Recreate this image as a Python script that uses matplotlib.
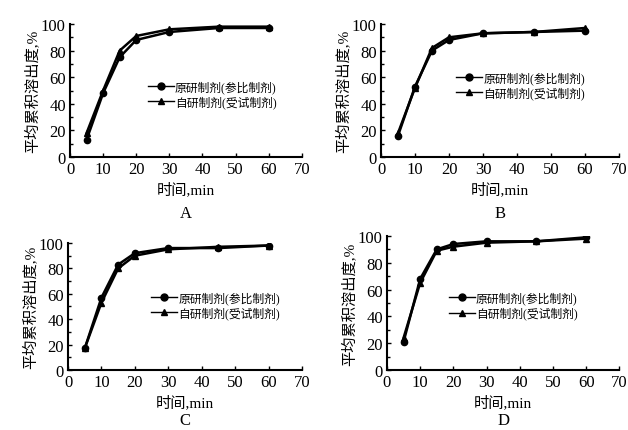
import numpy as np
import matplotlib.pyplot as plt
from matplotlib.lines import Line2D

plt.rcParams['font.family'] = ['Liberation Serif', 'Noto Sans CJK SC']

# sampling times, min
t = [5, 10, 15, 20, 30, 45, 60]

# 原研制剂 (circle) and 自研制剂 (triangle), cumulative dissolution %
a_ref = [13, 48, 75, 88, 94, 97, 97]
a_test = [18, 50, 80, 91, 96, 98, 98]
b_ref = [16, 53, 80, 88, 93, 94, 95]
b_test = [18, 52, 82, 90, 93, 94, 97]
c_ref = [17, 57, 83, 92, 96, 96, 98]
c_test = [17, 53, 80, 90, 95, 97, 98]
d_ref = [21, 68, 90, 94, 96, 96, 99]
d_test = [24, 65, 89, 92, 95, 96, 98]

panels = ['A', 'B', 'C', 'D']
ref_label = '原研制剂(参比制剂)'
test_label = '自研制剂(受试制剂)'

# axes rectangles in figure fraction
rects = [
    [0.1115, 0.6334, 0.369, 0.3086],
    [0.6067, 0.6334, 0.379, 0.3086],
    [0.1083, 0.1392, 0.3726, 0.2947],
    [0.6162, 0.1392, 0.370, 0.311],
]
# where each legend sits (axes fraction)
leg_pos = [(0.31, 0.47), (0.29, 0.54), (0.33, 0.51), (0.24, 0.48)]
series = [(a_ref, a_test), (b_ref, b_test), (c_ref, c_test), (d_ref, d_test)]

fig = plt.figure(figsize=(6.28, 4.31), dpi=100)

for i, (rect, (ref, test), name, lp) in enumerate(zip(rects, series, panels, leg_pos)):
    ax = fig.add_axes(rect)
    ax.plot(t, ref, color='black', lw=1.8, marker='o', ms=4.5)
    ax.plot(t, test, color='black', lw=1.8, marker='^', ms=4.5)
    ax.set_xlim(0, 70)
    ax.set_ylim(0, 100)
    ax.set_xticks(np.arange(0, 71, 10))
    ax.set_yticks(np.arange(0, 101, 20))
    ax.set_yticks(np.arange(10, 100, 20), minor=True)
    ax.spines['top'].set_visible(False)
    ax.spines['right'].set_visible(False)
    ax.spines['left'].set_linewidth(1.5)
    ax.spines['bottom'].set_linewidth(1.5)
    ax.tick_params(direction='in', length=3, width=1, labelsize=12, pad=3)
    ax.tick_params(which='minor', direction='in', length=2, width=1)
    ax.set_xlabel('时间,min', fontsize=11, labelpad=3)
    ax.set_ylabel('平均累积溶出度,%', fontsize=11, labelpad=1)
    # panel letter under the x label
    xc = rect[0] + rect[2] / 2
    if i < 2:
        fig.text(xc, 0.522, name, ha='center', va='top', fontsize=12)
    else:
        fig.text(xc, 0.004, name, ha='center', va='bottom', fontsize=12)
    h1 = Line2D([], [], color='black', lw=1, marker='o', ms=5)
    h2 = Line2D([], [], color='black', lw=1, marker='^', ms=5)
    ax.legend([h1, h2], [ref_label, test_label], loc='center left',
              bbox_to_anchor=lp, frameon=False, fontsize=8.5,
              handlelength=2.2, handletextpad=0.1, labelspacing=0.2,
              borderpad=0)

plt.savefig('out.png', dpi=100)
